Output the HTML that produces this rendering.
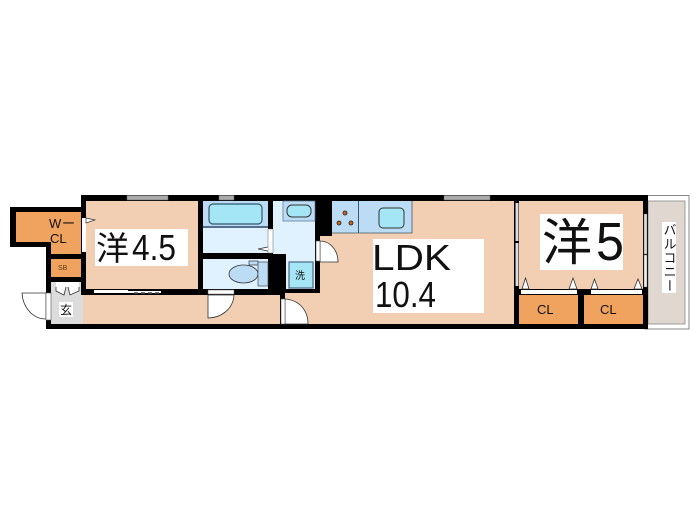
<!DOCTYPE html>
<html><head><meta charset="utf-8"><style>
html,body{margin:0;padding:0;background:#fff;width:700px;height:525px;overflow:hidden}
svg{display:block;filter:blur(.35px)}
text{font-family:"Liberation Sans","Noto Sans CJK JP",sans-serif;fill:#111}
</style></head><body>
<svg width="700" height="525" viewBox="0 0 700 525" xmlns="http://www.w3.org/2000/svg">
<!-- balcony -->
<rect x="645" y="195.5" width="44" height="133.5" fill="#fff" stroke="#888" stroke-width="1"/>
<rect x="648" y="201" width="37" height="123" fill="#e0d8d0" stroke="#888" stroke-width=".8"/>
<!-- black wall mass -->
<path d="M81 195H648V329H46V247H10V207H81Z" fill="#000"/>
<!-- rooms -->
<g fill="#f2cfb2">
<rect x="86" y="201" width="112" height="88"/>
<rect x="83" y="295" width="197" height="29"/>
<path d="M332 201H514V324H285V293H320V236H332Z"/>
<rect x="519" y="201" width="124" height="88"/>
</g>
<!-- closets -->
<g fill="#f0a35f">
<path d="M16 212H81V254H51V242H16Z"/>
<rect x="51" y="259" width="30" height="18"/>
<rect x="519" y="295" width="59" height="29"/>
<rect x="584" y="295" width="59" height="29"/>
</g>
<!-- entry -->
<path d="M51 282H81V295H83V324H51Z" fill="#dcdcdc"/>
<rect x="56" y="282" width="23" height="5" fill="#fff"/>
<path d="M56 287V291L64 295L66 287M79 287V291L70 295L68 287" fill="#fff" stroke="#333" stroke-width=".8"/>
<rect x="59" y="302" width="14" height="15" fill="#fff"/>
<!-- entry door -->
<path d="M22 293H46V319C33 319 23 308 22 293Z" fill="#fff" stroke="#333" stroke-width=".8"/>
<rect x="46" y="293" width="5" height="27" fill="#fff" stroke="#555" stroke-width=".6"/>
<!-- wet rooms -->
<rect x="203" y="201" width="65" height="26" fill="#bcdcf5"/>
<rect x="203" y="227" width="65" height="26" fill="#e0f1ff"/>
<rect x="203" y="226" width="65" height="2" fill="#54708c"/>
<rect x="209" y="204" width="53" height="20" rx="4" fill="#a4e6f6" stroke="#32566c" stroke-width="1.2"/>
<rect x="203" y="259" width="65" height="30" fill="#e0f1ff"/>
<ellipse cx="243.5" cy="274" rx="14.5" ry="9" fill="#bcdcf5" stroke="#333" stroke-width=".8"/>
<rect x="249" y="261" width="9" height="4" fill="#bcdcf5" stroke="#333" stroke-width=".7"/>
<rect x="258" y="262" width="10" height="24" fill="#bcdcf5" stroke="#445" stroke-width=".7"/>
<path d="M273 201H315V289H286V254H273Z" fill="#e0f1ff"/>
<rect x="283" y="201" width="32" height="20" fill="#bcdcf5" stroke="#54708c" stroke-width=".7"/>
<rect x="287" y="205" width="24" height="12" rx="5" fill="#a4e6f6" stroke="#333" stroke-width="1"/>
<rect x="289" y="262" width="24" height="26" fill="#a4e6f6" stroke="#54708c" stroke-width="1.3"/>
<!-- wet room door -->
<rect x="268" y="229" width="5" height="24" fill="#fff" stroke="#666" stroke-width=".5"/>
<path d="M268 247L258 249L268 251" fill="#fff" stroke="#333" stroke-width=".7"/>
<!-- kitchen -->
<rect x="332" y="201" width="80" height="32" fill="#bcdcf5"/>
<rect x="358" y="201" width="1" height="32" fill="#456"/>
<path d="M332 233H412V201" fill="none" stroke="#456" stroke-width=".8"/>
<rect x="379" y="208" width="25" height="20" rx="4" fill="#a4e6f6" stroke="#333" stroke-width="1"/>
<g fill="#c8641e" stroke="#222" stroke-width=".8">
<circle cx="345" cy="213" r="2"/><circle cx="339" cy="223" r="2"/><circle cx="351" cy="223" r="2"/>
</g>
<!-- doors -->
<path d="M320 241C330 241 338 250 338 262H320Z" fill="#fff" stroke="#333" stroke-width=".8"/>
<rect x="316" y="241" width="4" height="20" fill="#fff" stroke="#555" stroke-width=".6"/>
<path d="M285 299C299 300 308 310 308 324H285Z" fill="#fff" stroke="#333" stroke-width=".8"/>
<rect x="281" y="299" width="4" height="25" fill="#fff" stroke="#555" stroke-width=".6"/>
<path d="M208 295V318C220 318 233 310 234 295Z" fill="#fff" stroke="#333" stroke-width=".8"/>
<rect x="208" y="290" width="26" height="4" fill="#fff" stroke="#666" stroke-width=".5"/>
<!-- windows -->
<g fill="#aaa" stroke="#666" stroke-width=".5">
<rect x="127" y="195.5" width="41" height="4.5"/>
<rect x="219" y="195.5" width="15" height="4.5"/>
<rect x="444" y="195.5" width="46" height="4.5"/>
</g>
<!-- sliding panels -->
<rect x="82" y="218" width="4" height="34" fill="#fff"/>
<path d="M86 218L95 220L86 223Z" fill="#fff" stroke="#333" stroke-width=".7"/>
<rect x="94" y="290" width="34" height="3" fill="#fff"/>
<rect x="128" y="291" width="33" height="2" fill="#fff"/>
<g fill="#777"><rect x="134" y="292" width="4" height="1.5"/><rect x="141" y="292" width="4" height="1.5"/><rect x="148" y="292" width="4" height="1.5"/><rect x="155" y="292" width="4" height="1.5"/></g>
<rect x="515.5" y="203" width="3" height="38" fill="#ddd"/><rect x="515.5" y="243" width="3" height="43" fill="#ddd" />
<rect x="644" y="214" width="3" height="40" fill="#ddd" stroke="#666" stroke-width=".4"/>
<rect x="644" y="255" width="3" height="32" fill="#eee" stroke="#666" stroke-width=".4"/>
<!-- closet doors -->
<rect x="521" y="290" width="56" height="4" fill="#fff"/>
<rect x="591" y="290" width="51" height="4" fill="#fff"/>
<g fill="#fff" stroke="#333" stroke-width=".8">
<path d="M522 289L525.5 278L529 289Z"/><path d="M569 289L573 278L577 289Z"/>
<path d="M591 289L594.5 279L598 289Z"/><path d="M634 289L638 279L642 289Z"/>
</g>
<!-- label backgrounds -->
<g fill="#fff">
<rect x="95" y="229" width="93" height="37"/>
<rect x="373" y="239" width="111" height="74"/>
<rect x="540" y="214" width="83" height="56"/>
<rect x="662" y="222" width="14" height="71"/>
</g>
<!-- labels -->
<text x="96" y="260" font-size="33">洋</text>
<text x="132" y="260" font-size="36" textLength="44" lengthAdjust="spacingAndGlyphs">4.5</text>
<text x="372" y="270" font-size="36" textLength="79" lengthAdjust="spacingAndGlyphs">LDK</text>
<text x="375" y="307" font-size="36" textLength="61" lengthAdjust="spacingAndGlyphs">10.4</text>
<text x="542" y="260" font-size="50">洋</text>
<text x="596" y="260" font-size="54" textLength="28" lengthAdjust="spacingAndGlyphs">5</text>
<text x="49" y="228" font-size="13">W</text><text x="62" y="228" font-size="13">ー</text>
<text x="50" y="243" font-size="13">CL</text>
<text x="58" y="270" font-size="7" style="fill:#5a3a1a">SB</text>
<text x="60" y="314" font-size="12">玄</text>
<text x="295" y="279" font-size="10">洗</text>
<text x="537" y="314" font-size="13">CL</text>
<text x="600" y="314" font-size="13">CL</text>
<text x="669" y="258" font-size="13" text-anchor="middle" style="writing-mode:vertical-rl;letter-spacing:1px">バルコニー</text>
</svg>
</body></html>
